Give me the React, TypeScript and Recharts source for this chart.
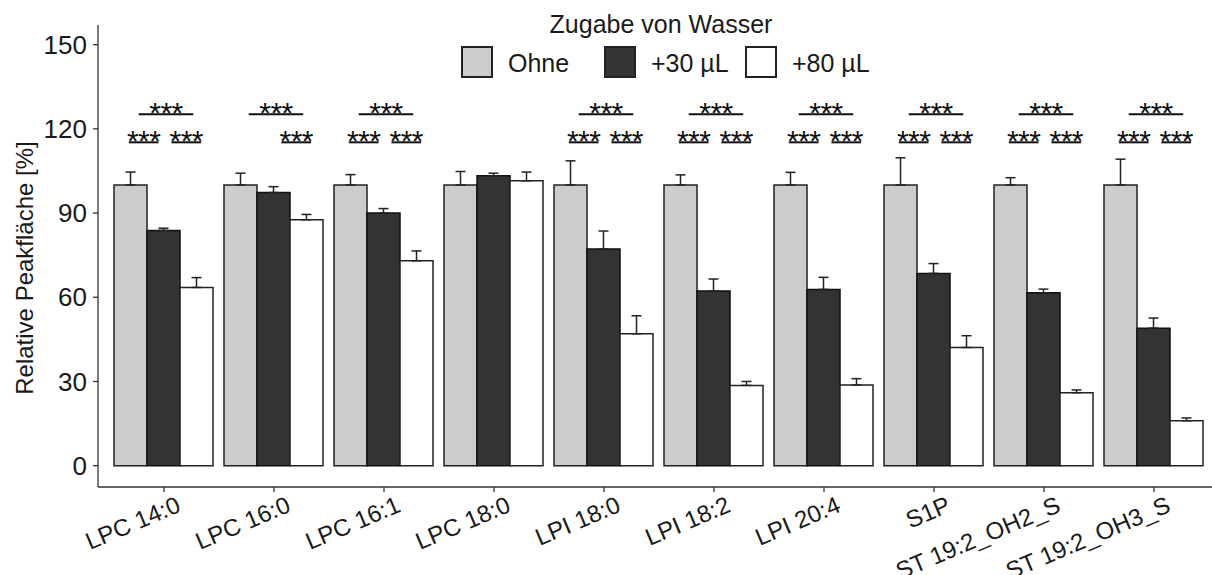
import React from "react";
import { BarChart, Bar, XAxis, YAxis, ErrorBar, LabelList } from "recharts";

const categories = [
  "LPC 14:0",
  "LPC 16:0",
  "LPC 16:1",
  "LPC 18:0",
  "LPI 18:0",
  "LPI 18:2",
  "LPI 20:4",
  "S1P",
  "ST 19:2_OH2_S",
  "ST 19:2_OH3_S",
];
const ohne = [100, 100, 100, 100, 100, 100, 100, 100, 100, 100];
const ohneSd = [4.6, 4.2, 3.7, 4.8, 8.6, 3.6, 4.5, 9.7, 2.6, 9.2];
const plus30 = [83.8, 97.3, 90, 103.3, 77.2, 62.2, 62.8, 68.5, 61.6, 49];
const plus30Sd = [0.8, 2.1, 1.6, 0.9, 6.4, 4.3, 4.3, 3.5, 1.3, 3.6];
const plus80 = [63.5, 87.6, 73, 101.5, 47, 28.6, 28.7, 42.1, 26, 16];
const plus80Sd = [3.5, 1.9, 3.5, 3.1, 6.4, 1.4, 2.3, 4.2, 1.0, 1.0];
const yTicks = [0, 30, 60, 90, 120, 150];

// a = Ohne vs +30, b = +30 vs +80, c = Ohne vs +80
const sigPairs = [
  ["a", "b", "c"],
  ["b", "c"],
  ["a", "b", "c"],
  [],
  ["a", "b", "c"],
  ["a", "b", "c"],
  ["a", "b", "c"],
  ["a", "b", "c"],
  ["a", "b", "c"],
  ["a", "b", "c"],
];
const sigText = "***";
const sigLevel: Record<string, number> = { a: 115.2, b: 115.2, c: 125.2 };
// span of each bracket as fraction of the group width
const sigSpan: Record<string, [number, number]> = {
  a: [0.15, 0.45],
  b: [0.58, 0.88],
  c: [0.25, 0.8],
};

const legendItems = [
  { name: "Ohne", color: "#cccccc" },
  { name: "+30 µL", color: "#333333" },
  { name: "+80 µL", color: "#ffffff" },
];

const data = categories.map((name, i) => ({
  name,
  ohne: ohne[i],
  ohneErr: [0, ohneSd[i]],
  plus30: plus30[i],
  plus30Err: [0, plus30Sd[i]],
  plus80: plus80[i],
  plus80Err: [0, plus80Sd[i]],
}));

const FONT = "'Liberation Sans', Arial, sans-serif";
const INK = "#1a1a1a";

function SigMarks(props: any) {
  const vb = props.viewBox && props.viewBox.width != null ? props.viewBox : props;
  const x = Number(vb.x);
  const y = Number(vb.y);
  const w = Math.abs(Number(vb.width));
  const h = Number(vb.height);
  const idx = props.index;
  const pairs = sigPairs[idx] || [];
  if (!pairs.length || !isFinite(x) || !isFinite(y)) return null;
  const top = Math.min(y, y + h);
  const base = top + Math.abs(h); // pixel of value 0
  const k = Math.abs(h) / ohne[idx];
  const gw = w * 3;
  return (
    <g>
      {pairs.map((p) => {
        const ly = base - sigLevel[p] * k;
        const x1 = x + sigSpan[p][0] * gw;
        const x2 = x + sigSpan[p][1] * gw;
        return (
          <g key={p}>
            <line x1={x1} x2={x2} y1={ly} y2={ly} stroke="#111" strokeWidth={2} />
            <text
              x={(x1 + x2) / 2}
              y={ly + 9}
              textAnchor="middle"
              fontSize={30}
              letterSpacing={-0.5}
              fontFamily={FONT}
              fill="#111"
            >
              {sigText}
            </text>
          </g>
        );
      })}
    </g>
  );
}

function XTick(props: any) {
  const { x, y, payload } = props;
  const ax = x + 18;
  const ay = y + 17;
  return (
    <text
      x={ax}
      y={ay}
      textAnchor="end"
      transform={`rotate(-23 ${ax} ${ay})`}
      fontSize={24}
      fontFamily={FONT}
      fill={INK}
    >
      {payload.value}
    </text>
  );
}

function YLabel() {
  return (
    <text
      x={33}
      y={268}
      transform="rotate(-90 33 268)"
      textAnchor="middle"
      fontSize={24}
      fontFamily={FONT}
      fill={INK}
    >
      Relative Peakfläche [%]
    </text>
  );
}

export default function App() {
  return (
    <div
      style={{
        position: "absolute",
        left: 0,
        top: 0,
        width: 1212,
        height: 575,
        overflow: "hidden",
        background: "#fff",
      }}
    >
      <BarChart
        width={1240}
        height={575}
        data={data}
        margin={{ top: 25, right: 20, bottom: 0, left: 0 }}
        barCategoryGap={5}
        barGap={0}
      >
        <XAxis
          dataKey="name"
          height={88}
          padding={{ left: 11, right: 11 }}
          tickSize={5}
          tick={<XTick />}
          interval={0}
          axisLine={{ stroke: "#333", strokeWidth: 1.3 }}
          tickLine={{ stroke: "#333", strokeWidth: 1.3 }}
        />
        <YAxis
          type="number"
          width={98}
          domain={[-7.6, 157]}
          ticks={yTicks}
          allowDataOverflow
          tickSize={5}
          tickMargin={6}
          axisLine={{ stroke: "#333", strokeWidth: 1.3 }}
          tickLine={{ stroke: "#333", strokeWidth: 1.3 }}
          tick={{ fontSize: 26, fontFamily: FONT, fill: INK }}
          label={{ content: () => <YLabel /> }}
        />
        <Bar
          dataKey="ohne"
          fill="#cccccc"
          stroke="#222"
          strokeWidth={1.5}
          isAnimationActive={false}
        >
          <ErrorBar dataKey="ohneErr" width={5} stroke="#222" strokeWidth={1.5} />
          <LabelList dataKey="ohne" content={(p: any) => <SigMarks {...p} />} />
        </Bar>
        <Bar
          dataKey="plus30"
          fill="#333333"
          stroke="#111"
          strokeWidth={1.5}
          isAnimationActive={false}
        >
          <ErrorBar dataKey="plus30Err" width={5} stroke="#222" strokeWidth={1.5} />
        </Bar>
        <Bar
          dataKey="plus80"
          fill="#ffffff"
          stroke="#222"
          strokeWidth={1.5}
          isAnimationActive={false}
        >
          <ErrorBar dataKey="plus80Err" width={5} stroke="#222" strokeWidth={1.5} />
        </Bar>
      </BarChart>
      <svg
        width={1212}
        height={85}
        style={{ position: "absolute", left: 0, top: 0 }}
      >
        <text
          x={661}
          y={33}
          textAnchor="middle"
          fontSize={25}
          fontFamily={FONT}
          fill={INK}
        >
          Zugabe von Wasser
        </text>
        {legendItems.map((it, i) => {
          const sx = [462, 605, 746][i];
          return (
            <g key={it.name}>
              <rect
                x={sx}
                y={47}
                width={30}
                height={30}
                fill={it.color}
                stroke="#222"
                strokeWidth={2}
              />
              <text
                x={sx + 46}
                y={72}
                fontSize={25}
                fontFamily={FONT}
                fill={INK}
              >
                {it.name}
              </text>
            </g>
          );
        })}
      </svg>
    </div>
  );
}
